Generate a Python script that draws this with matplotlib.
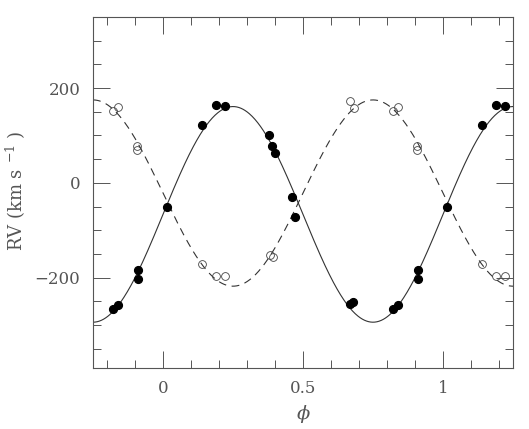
import numpy as np
import matplotlib
matplotlib.use("Agg")
import matplotlib.pyplot as plt
from matplotlib.ticker import MultipleLocator

# orbital phases (0..1) and radial velocities
prim_phase = [0.013, 0.140, 0.190, 0.220, 0.380, 0.390, 0.400, 0.460, 0.470,
              0.668, 0.680, 0.820, 0.839, 0.910, 0.910]
prim_rv = [-51, 122, 165, 162, 101, 77, 63, -30, -71,
           -256, -251, -267, -258, -184, -203]

sec_phase = [0.139, 0.189, 0.223, 0.382, 0.393, 0.669, 0.681,
             0.820, 0.839, 0.906, 0.908]
sec_rv = [-172, -197, -197, -153, -157, 173, 158, 152, 160, 78, 70]

# fitted circular orbit (systemic velocity and semi-amplitudes)
gamma_prim, K_prim = -66.5, 227.5
gamma_sec, K_sec = -21.5, 196.5

xmin, xmax = -0.25, 1.25

grey = "#555555"
plt.rcParams["font.family"] = ["DejaVu Serif"]
plt.rcParams["mathtext.fontset"] = "dejavuserif"


def wrap(phase, rv):
    # repeat each point one cycle either side, keep what falls in the window
    xs, ys = [], []
    for p, v in zip(phase, rv):
        for shift in (-1, 0, 1):
            if xmin <= p + shift <= xmax:
                xs.append(p + shift)
                ys.append(v)
    return xs, ys


fig = plt.figure(figsize=(5.29, 4.29), dpi=100)
ax = fig.add_axes([0.1758, 0.1429, 0.794, 0.8175])

ph = np.linspace(xmin, xmax, 600)
ax.plot(ph, gamma_prim + K_prim * np.sin(2 * np.pi * ph), color="#333333", lw=0.8)
ax.plot(ph, gamma_sec - K_sec * np.sin(2 * np.pi * ph), color="#333333", lw=0.8,
        dashes=(7, 5))

x, y = wrap(prim_phase, prim_rv)
ax.plot(x, y, "o", color="black", ms=5.6, ls="none")
x, y = wrap(sec_phase, sec_rv)
ax.plot(x, y, "o", mfc="none", mec="#444444", mew=0.6, ms=5.6, ls="none")

ax.set_xlim(xmin, xmax)
ax.set_ylim(-390, 350)
ax.xaxis.set_major_locator(MultipleLocator(0.5))
ax.xaxis.set_minor_locator(MultipleLocator(0.1))
ax.yaxis.set_major_locator(MultipleLocator(200))
ax.yaxis.set_minor_locator(MultipleLocator(50))
ax.set_xticks([0, 0.5, 1])
ax.set_xticklabels(["0", "0.5", "1"])
ax.set_yticks([-200, 0, 200])
ax.set_yticklabels(["\u2212200", "0", "200"])

ax.tick_params(which="both", direction="in", top=True, right=True,
               color=grey, labelcolor=grey, labelsize=12, width=0.7)
ax.tick_params(which="major", length=12, pad=9)
ax.tick_params(which="minor", length=6)
for s in ax.spines.values():
    s.set_color(grey)
    s.set_linewidth(0.8)

ax.set_xlabel(r"$\phi$", color=grey, fontsize=14, labelpad=4)
ax.set_ylabel(r"RV (km s $^{-1}$ )", color=grey, fontsize=13)
ax.yaxis.set_label_coords(-0.155, 0.504)

fig.savefig("out.png", dpi=100)
